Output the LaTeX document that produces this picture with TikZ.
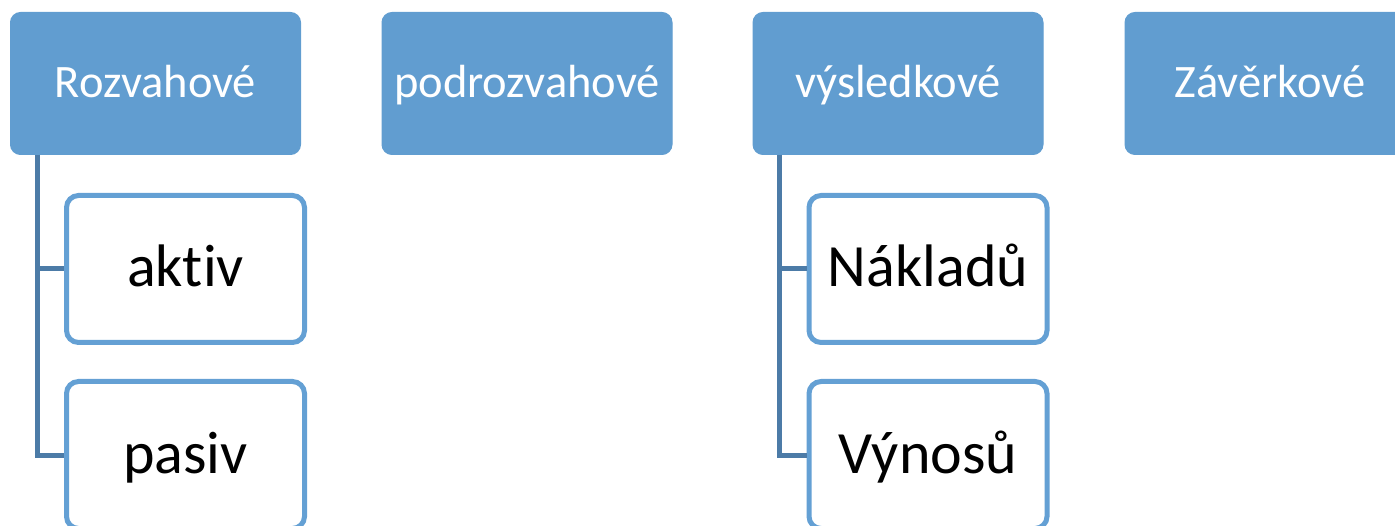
\documentclass[tikz,border=0pt]{standalone}
\usepackage{fontspec}
\setmainfont{Carlito}[RawFeature={-liga}]
\definecolor{topfill}{RGB}{97,157,208}
\definecolor{childline}{RGB}{100,160,212}
\definecolor{connline}{RGB}{76,123,167}
\begin{document}
\begin{tikzpicture}[x=1pt,y=-1pt,
  topbox/.style={draw=topfill,fill=topfill,line width=1pt,rounded corners=10pt,
    minimum width=290pt,minimum height=142pt,inner sep=0pt,text=white,
    font=\fontsize{46.5}{54}\selectfont,text height=28pt,text depth=0pt},
  childbox/.style={draw=childline,fill=white,line width=5pt,rounded corners=12pt,
    minimum width=238pt,minimum height=147pt,inner sep=0pt,text=black,
    font=\fontsize{60}{72}\selectfont,text height=36pt,text depth=0pt},
  conn/.style={draw=connline,line width=5pt}]
\useasboundingbox (0,0) rectangle (1395,526);
\node[topbox] (r) at (155.5,83.5) {Rozvahové};
\node[topbox] (pr) at (527,83.5) {podrozvahové};
\node[topbox] (v) at (898,83.5) {výsledkové};
\node[topbox] (z) at (1270,83.5) {Závěrkové};
\node[childbox] (a) at (185.5,269) {aktiv};
\node[childbox] (p) at (185.5,455) {pasiv};
\node[childbox] (n) at (928,269) {Nákladů};
\node[childbox] (vy) at (928,455) {Výnosů};
\draw[conn] ([xshift=27pt]r.south west) |- (a.west);
\draw[conn] ([xshift=27pt]r.south west) |- (p.west);
\draw[conn] ([xshift=27pt]v.south west) |- (n.west);
\draw[conn] ([xshift=27pt]v.south west) |- (vy.west);
\end{tikzpicture}
\end{document}
